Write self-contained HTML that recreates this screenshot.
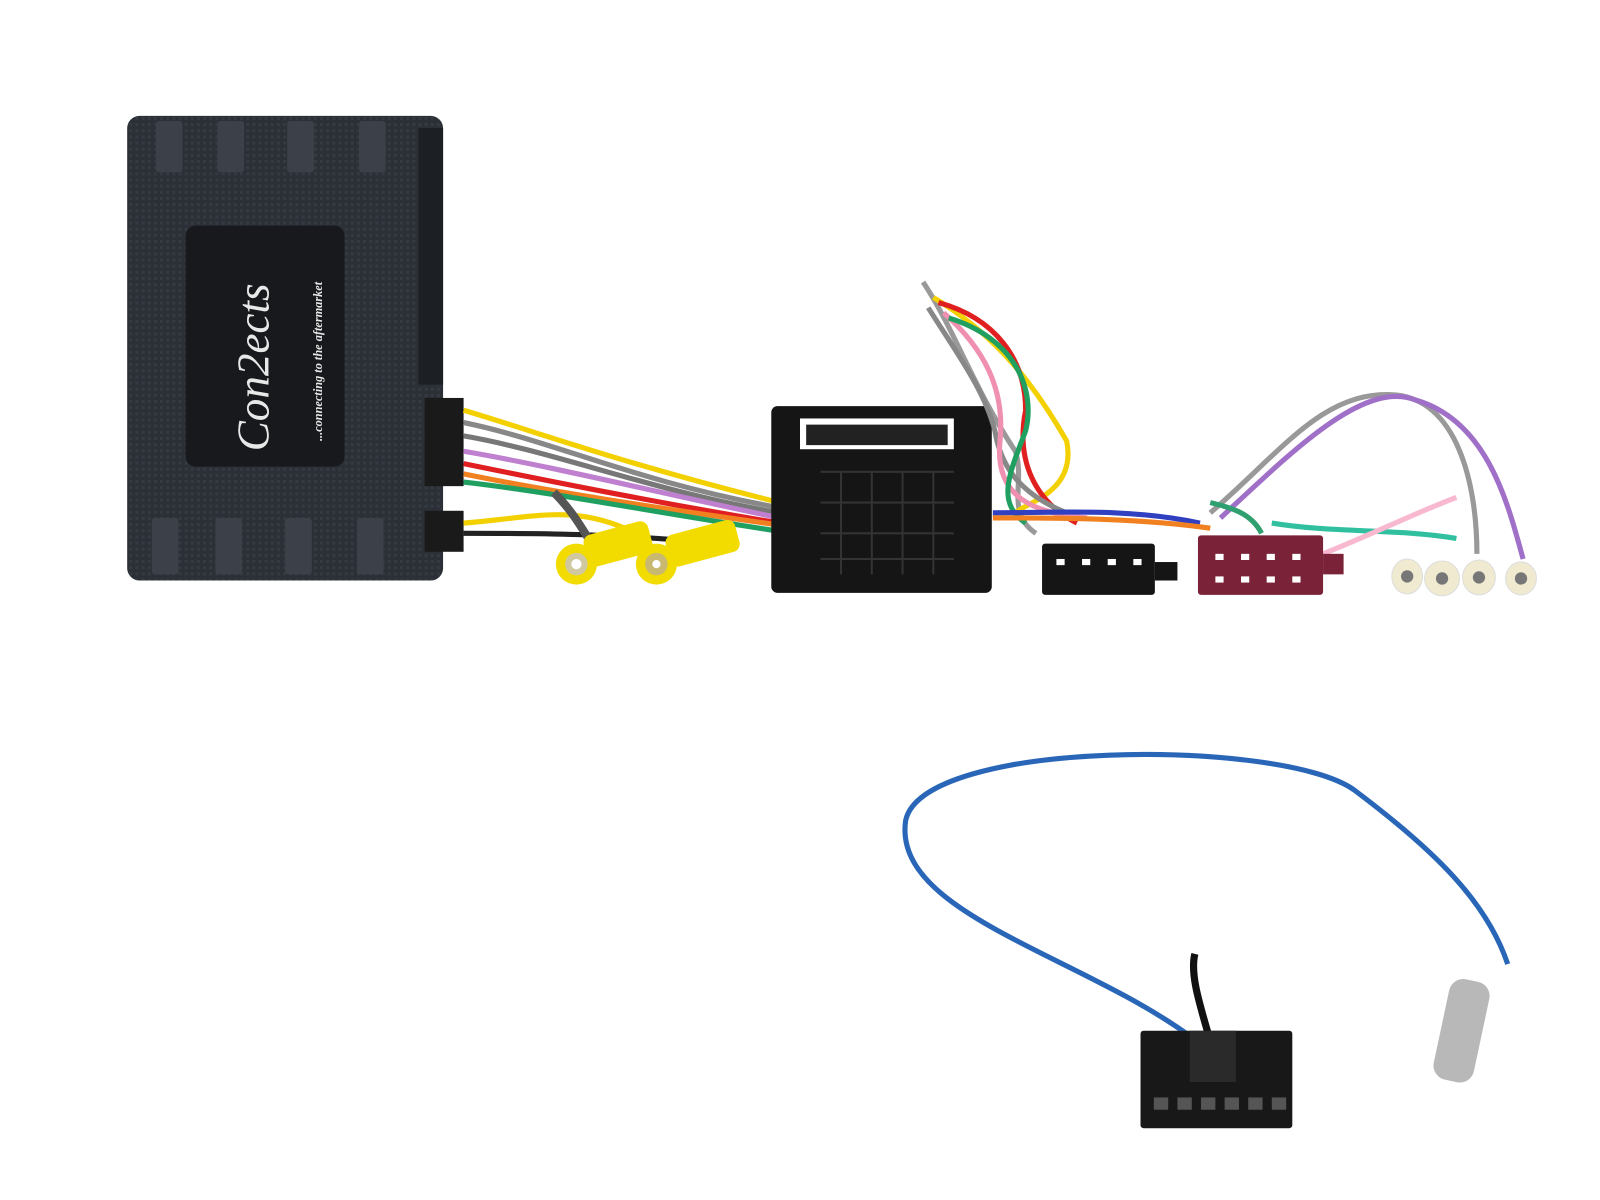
<!DOCTYPE html>
<html><head><meta charset="utf-8"><style>html,body{margin:0;padding:0;background:#fff;width:1600px;height:1200px;overflow:hidden}</style></head>
<body>
<svg width="1600" height="1200" viewBox="0 0 1560 1170" preserveAspectRatio="none" xmlns="http://www.w3.org/2000/svg">
<defs>
<pattern id="tx" width="6" height="6" patternUnits="userSpaceOnUse"><rect width="6" height="6" fill="#2b2f36"/><rect width="3" height="3" fill="#353a42"/></pattern>
</defs>
<!-- main box -->
<rect x="124" y="113" width="308" height="453" rx="12" fill="url(#tx)"/>
<rect x="408" y="125" width="24" height="250" fill="#1c1f24"/>
<g fill="#3c4048"><rect x="152" y="118" width="26" height="50" rx="3"/><rect x="212" y="118" width="26" height="50" rx="3"/><rect x="280" y="118" width="26" height="50" rx="3"/><rect x="350" y="118" width="26" height="50" rx="3"/>
<rect x="148" y="505" width="26" height="55" rx="3"/><rect x="210" y="505" width="26" height="55" rx="3"/><rect x="278" y="505" width="26" height="55" rx="3"/><rect x="348" y="505" width="26" height="55" rx="3"/></g>
<rect x="181" y="220" width="155" height="235" rx="10" fill="#17191c"/>
<text x="0" y="0" transform="translate(262 440) rotate(-90)" fill="#e8e8e8" font-family="Liberation Serif, serif" font-style="italic" font-size="44">Con2ects</text>
<text x="0" y="0" transform="translate(314 430) rotate(-90)" fill="#e8e8e8" font-family="Liberation Serif, serif" font-style="italic" font-weight="bold" font-size="12">...connecting to the aftermarket</text>
<!-- side connectors -->
<rect x="414" y="388" width="38" height="86" fill="#1a1a1a"/>
<rect x="414" y="498" width="38" height="40" fill="#1a1a1a"/>
<!-- wires from box -->
<g fill="none" stroke-width="5">
<path d="M452 400 C520 420 600 450 760 490" stroke="#f3d000"/>
<path d="M452 412 C540 430 620 470 760 495" stroke="#888"/>
<path d="M452 425 C540 440 640 480 760 500" stroke="#777"/>
<path d="M452 440 C540 455 640 480 760 505" stroke="#c080d0"/>
<path d="M452 452 C540 470 640 490 760 510" stroke="#e02020"/>
<path d="M452 462 C540 480 640 495 760 512" stroke="#f08020"/>
<path d="M452 470 C540 480 640 500 760 518" stroke="#20a060"/>
<path d="M452 510 C520 505 560 490 620 520" stroke="#f3d000"/>
<path d="M452 520 C520 520 600 520 700 530" stroke="#222"/>
<path d="M540 480 C560 500 570 520 580 535" stroke="#555" stroke-width="8"/>
</g>
<!-- RCA -->
<g><rect x="570" y="515" width="65" height="32" rx="8" fill="#f2dc00" transform="rotate(-15 600 530)"/><ellipse cx="562" cy="550" rx="20" ry="20" fill="#f2dc00"/><circle cx="562" cy="550" r="11" fill="#d0c8a0"/><circle cx="562" cy="550" r="5" fill="#fff"/></g>
<g><rect x="650" y="515" width="70" height="32" rx="8" fill="#f2dc00" transform="rotate(-15 680 530)"/><ellipse cx="640" cy="550" rx="20" ry="20" fill="#f2dc00"/><circle cx="640" cy="550" r="11" fill="#c8b870"/><circle cx="640" cy="550" r="4" fill="#fff"/></g>
<!-- quadlock -->
<rect x="752" y="396" width="215" height="182" rx="6" fill="#151515"/>
<rect x="780" y="408" width="150" height="30" fill="#fff"/><rect x="786" y="414" width="138" height="20" fill="#222"/>
<g stroke="#333" stroke-width="2"><path d="M800 460 H930 M800 490 H930 M800 520 H930 M800 545 H930 M820 460 V560 M850 460 V560 M880 460 V560 M910 460 V560"/></g>
<!-- wires upward bundle -->
<g fill="none" stroke-width="5">
<path d="M900 275 C930 320 950 380 990 440 C1000 470 980 500 1010 520" stroke="#999"/>
<path d="M910 290 C960 320 1000 360 1040 430 C1050 480 1000 490 990 500" stroke="#f3d000"/>
<path d="M915 295 C970 310 1000 350 1000 400 C990 450 1010 490 1050 510" stroke="#e02020"/>
<path d="M905 300 C930 340 960 380 970 420 C975 450 990 480 1040 500" stroke="#888"/>
<path d="M920 305 C960 340 980 380 975 430 C970 480 1000 500 1060 505" stroke="#f090b0"/>
<path d="M925 310 C990 330 1010 380 1000 420 C985 460 970 490 1000 510" stroke="#20a060"/>
<path d="M968 500 C1030 500 1100 495 1170 510" stroke="#3040c0"/>
<path d="M968 505 C1030 505 1110 505 1180 515" stroke="#f08020"/>
<path d="M1180 500 C1250 440 1290 380 1360 385 C1420 390 1440 470 1440 540" stroke="#999"/>
<path d="M1190 505 C1260 440 1330 370 1380 390 C1450 410 1470 490 1485 545" stroke="#a070c8"/>
<path d="M1240 510 C1300 520 1360 515 1420 525" stroke="#30c0a0"/>
<path d="M1290 540 C1340 520 1380 500 1420 485" stroke="#f8b8d0"/>
<path d="M1230 520 C1220 500 1200 495 1180 490" stroke="#30a070"/>
</g>
<!-- ISO black -->
<rect x="1016" y="530" width="110" height="50" rx="3" fill="#151515"/>
<rect x="1126" y="548" width="22" height="18" fill="#151515"/>
<g fill="#fff"><rect x="1030" y="545" width="8" height="6"/><rect x="1055" y="545" width="8" height="6"/><rect x="1080" y="545" width="8" height="6"/><rect x="1105" y="545" width="8" height="6"/></g>
<!-- ISO red -->
<rect x="1168" y="522" width="122" height="58" rx="3" fill="#7a2238"/>
<rect x="1290" y="540" width="20" height="20" fill="#7a2238"/>
<g fill="#fff"><rect x="1185" y="540" width="8" height="6"/><rect x="1210" y="540" width="8" height="6"/><rect x="1235" y="540" width="8" height="6"/><rect x="1260" y="540" width="8" height="6"/><rect x="1185" y="562" width="8" height="6"/><rect x="1210" y="562" width="8" height="6"/><rect x="1235" y="562" width="8" height="6"/><rect x="1260" y="562" width="8" height="6"/></g>
<!-- speaker pins -->
<g fill="#f0ead0" stroke="#ddd"><ellipse cx="1372" cy="562" rx="15" ry="17"/><ellipse cx="1406" cy="564" rx="17" ry="17"/><ellipse cx="1442" cy="563" rx="16" ry="17"/><ellipse cx="1483" cy="564" rx="15" ry="16"/></g>
<g fill="#777"><circle cx="1372" cy="562" r="6"/><circle cx="1406" cy="564" r="6"/><circle cx="1442" cy="563" r="6"/><circle cx="1483" cy="564" r="6"/></g>
<!-- bottom antenna lead -->
<path d="M1160 1010 C1050 930 870 890 883 800 C900 720 1250 720 1320 770 C1400 830 1450 880 1470 940" fill="none" stroke="#2a66b8" stroke-width="5"/>
<path d="M1180 1015 C1170 980 1160 950 1165 930" fill="none" stroke="#111" stroke-width="7"/>
<rect x="1405" y="955" width="40" height="100" rx="14" fill="#b8b8b8" transform="rotate(12 1425 1005)"/>
<rect x="1112" y="1005" width="148" height="95" rx="3" fill="#181818"/>
<rect x="1160" y="1005" width="45" height="50" fill="#2a2a2a"/>
<g fill="#555"><rect x="1125" y="1070" width="14" height="12"/><rect x="1148" y="1070" width="14" height="12"/><rect x="1171" y="1070" width="14" height="12"/><rect x="1194" y="1070" width="14" height="12"/><rect x="1217" y="1070" width="14" height="12"/><rect x="1240" y="1070" width="14" height="12"/></g>
</svg>
</body></html>
